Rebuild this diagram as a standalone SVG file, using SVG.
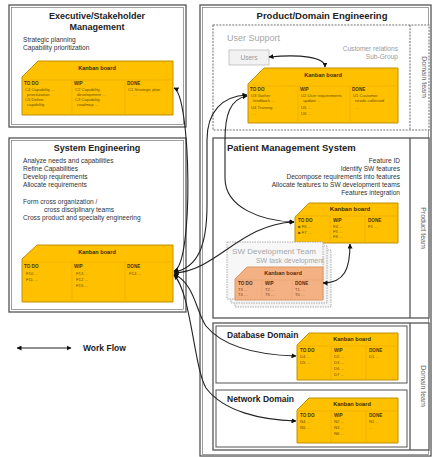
<svg xmlns="http://www.w3.org/2000/svg" width="435" height="457" viewBox="0 0 435 457">
<defs>
<style>
text{font-family:"Liberation Sans",Arial,sans-serif}
.frame{fill:#fff;stroke:#555;stroke-width:1.3}
.inner{fill:none;stroke:#777;stroke-width:0.7}
.dash{fill:#fff;stroke:#777;stroke-width:1.1;stroke-dasharray:2 1.2}
.ttl{font-size:9px;font-weight:bold;fill:#222}
.body{font-size:6.6px;fill:#333}
.gray{fill:#9a9a9a}
.kb{fill:#FFC000;stroke:#BF9000;stroke-width:1}
.kbl{stroke:#E8B000;stroke-width:0.7}
.kbt{font-size:5.6px;font-weight:bold;fill:#3a2c00;text-anchor:middle}
.kbh{font-size:4.6px;font-weight:bold;fill:#4a3800}
.kbi{font-size:4.2px;fill:#6b5200}
.sk{fill:#F4B183;stroke:#D99866;stroke-width:1}
.skl{stroke:#E9A474;stroke-width:0.7}
.ski{font-size:4.2px;fill:#843C0C}
.rot{font-size:7px;fill:#666;text-anchor:middle}
.flow{fill:none;stroke:#222;stroke-width:1.1;marker-start:url(#ah);marker-end:url(#ah)}
</style>
<marker id="ah" viewBox="0 0 10 10" refX="9" refY="5" markerWidth="5" markerHeight="5" orient="auto-start-reverse" markerUnits="userSpaceOnUse">
<path d="M0,0 L10,5 L0,10 z" fill="#111"/>
</marker>
</defs>

<!-- Executive/Stakeholder Management -->
<g id="exec">
<rect class="frame" x="9" y="5" width="177" height="122"/>
<rect class="inner" x="11.5" y="7.5" width="172" height="117"/>
<text class="ttl" x="97" y="19" text-anchor="middle">Executive/Stakeholder</text>
<text class="ttl" x="97" y="30" text-anchor="middle">Management</text>
<text class="body" x="23" y="42">Strategic planning</text>
<text class="body" x="23" y="50">Capability prioritization</text>
<g id="exec-kanban">
<polygon class="kb" points="38,61 173,61 173,115 22,115 22,77"/>
<line class="kbl" x1="22" y1="80" x2="173" y2="80"/>
<line class="kbl" x1="72" y1="80" x2="72" y2="115"/>
<line class="kbl" x1="125" y1="80" x2="125" y2="115"/>
<text class="kbt" x="97" y="70">Kanban board</text>
<text class="kbh" x="24" y="85">TO DO</text>
<text class="kbh" x="74" y="85">WIP</text>
<text class="kbh" x="127" y="85">DONE</text>
<text class="kbi" x="25" y="91">C4 Capability ...</text>
<text class="kbi" x="27" y="96">prioritization</text>
<text class="kbi" x="25" y="101">C5 Define</text>
<text class="kbi" x="27" y="106">capability</text>
<text class="kbi" x="75" y="91">C2 Capability</text>
<text class="kbi" x="77" y="96">development ...</text>
<text class="kbi" x="75" y="101">C3 Capability</text>
<text class="kbi" x="77" y="106">roadmap ...</text>
<text class="kbi" x="128" y="91">C1 Strategic plan</text>
<text class="kbi" x="134" y="96">...</text>
</g>
</g>

<!-- System Engineering -->
<g id="syseng">
<rect class="frame" x="9" y="138" width="177" height="174"/>
<rect class="inner" x="11.5" y="140.5" width="172" height="169"/>
<text class="ttl" x="97" y="151" text-anchor="middle">System Engineering</text>
<text class="body" x="23" y="163">Analyze needs and capabilities</text>
<text class="body" x="23" y="171">Refine Capabilities</text>
<text class="body" x="23" y="179">Develop requirements</text>
<text class="body" x="23" y="187">Allocate requirements</text>
<text class="body" x="23" y="204">Form cross organization /</text>
<text class="body" x="44" y="212">cross disciplinary teams</text>
<text class="body" x="23" y="220">Cross product and specialty engineering</text>
<g id="se-kanban">
<polygon class="kb" points="37,245 173,245 173,302 22,302 22,259"/>
<line class="kbl" x1="22" y1="262" x2="173" y2="262"/>
<line class="kbl" x1="72" y1="262" x2="72" y2="302"/>
<line class="kbl" x1="125" y1="262" x2="125" y2="302"/>
<text class="kbt" x="97" y="254">Kanban board</text>
<text class="kbh" x="24" y="268">TO DO</text>
<text class="kbh" x="74" y="268">WIP</text>
<text class="kbh" x="127" y="268">DONE</text>
<text class="kbi" x="26" y="275">F10 ...</text>
<text class="kbi" x="26" y="281">F11 ...</text>
<text class="kbi" x="76" y="275">F13 ...</text>
<text class="kbi" x="76" y="281">F12 ...</text>
<text class="kbi" x="76" y="287">F15 ...</text>
<text class="kbi" x="129" y="275">F14 ...</text>
</g>
</g>

<!-- Product/Domain Engineering -->
<g id="product-domain">
<rect class="frame" x="200" y="5" width="231" height="451"/>
<rect class="inner" x="202.5" y="7.5" width="226" height="447"/>
<text class="ttl" x="322" y="19" text-anchor="middle" style="font-size:9.5px">Product/Domain Engineering</text>
</g>

<!-- User Support -->
<g id="user-support">
<rect class="dash" x="213" y="25" width="216" height="105"/>
<line x1="410" y1="25" x2="410" y2="130" stroke="#777" stroke-width="1.1" stroke-dasharray="2 1.2"/>
<text class="rot" transform="translate(422,77) rotate(90)">Domain team</text>
<text x="227" y="41" style="font-size:9px;fill:#a6a6a6">User Support</text>
<text class="body gray" x="398" y="51" text-anchor="end">Customer relations</text>
<text class="body gray" x="398" y="59" text-anchor="end">Sub-Group</text>
</g>
<g id="users">
<rect x="229" y="50" width="40" height="15" fill="#f2f2f2" stroke="#bbb" stroke-width="0.8"/>
<text class="body gray" x="249" y="60" text-anchor="middle">Users</text>
</g>
<g id="us-kanban">
<polygon class="kb" points="264,68 398,68 398,123 248,123 248,84"/>
<line class="kbl" x1="248" y1="86" x2="398" y2="86"/>
<line class="kbl" x1="298" y1="86" x2="298" y2="123"/>
<line class="kbl" x1="350" y1="86" x2="350" y2="123"/>
<text class="kbt" x="323" y="77">Kanban board</text>
<text class="kbh" x="250" y="91">TO DO</text>
<text class="kbh" x="300" y="91">WIP</text>
<text class="kbh" x="352" y="91">DONE</text>
<text class="kbi" x="251" y="97">U3 Gather</text>
<text class="kbi" x="253" y="102">feedback ...</text>
<text class="kbi" x="251" y="109">U4 Training</text>
<text class="kbi" x="253" y="115">...</text>
<text class="kbi" x="301" y="97">U2 User requirements</text>
<text class="kbi" x="303" y="102">update ...</text>
<text class="kbi" x="301" y="109">U5 ...</text>
<text class="kbi" x="301" y="115">U6 ...</text>
<text class="kbi" x="353" y="97">U1 Customer</text>
<text class="kbi" x="355" y="102">needs collected</text>
<text class="kbi" x="355" y="109">...</text>
</g>

<!-- Patient Management System -->
<g id="patient-mgmt">
<rect class="frame" x="213" y="138" width="216" height="180"/>
<line x1="410" y1="138" x2="410" y2="318" stroke="#555" stroke-width="1.3"/>
<text class="rot" transform="translate(421,228) rotate(90)">Product team</text>
<text class="ttl" x="227" y="151" style="font-size:9.5px">Patient Management System</text>
<text class="body" x="400" y="163" text-anchor="end">Feature ID</text>
<text class="body" x="400" y="171" text-anchor="end">Identify SW features</text>
<text class="body" x="400" y="179" text-anchor="end">Decompose requirements into features</text>
<text class="body" x="400" y="187" text-anchor="end">Allocate features to SW development teams</text>
<text class="body" x="400" y="195" text-anchor="end">Features integration</text>
</g>
<g id="pm-kanban">
<polygon class="kb" points="309,203 398,203 398,243 295,243 295,217"/>
<line class="kbl" x1="295" y1="216" x2="398" y2="216"/>
<line class="kbl" x1="330" y1="216" x2="330" y2="243"/>
<line class="kbl" x1="365" y1="216" x2="365" y2="243"/>
<text class="kbt" x="350" y="211" style="font-size:6px">Kanban board</text>
<text class="kbh" x="298" y="222">TO DO</text>
<text class="kbh" x="333" y="222">WIP</text>
<text class="kbh" x="368" y="222">DONE</text>
<text class="kbi" x="298" y="228">■ F6 ...</text>
<text class="kbi" x="298" y="234">■ F7 ...</text>
<text class="kbi" x="333" y="228">F4 ...</text>
<text class="kbi" x="333" y="233">F5 ...</text>
<text class="kbi" x="333" y="238">F8 ...</text>
<text class="kbi" x="368" y="228">F1 ...</text>
</g>

<!-- SW Development Team -->
<g id="sw-team">
<rect x="235" y="250" width="96" height="57" fill="#f4f4f4" stroke="#999" stroke-width="0.8" stroke-dasharray="1.5 1"/>
<rect x="231" y="246" width="96" height="57" fill="#f4f4f4" stroke="#999" stroke-width="0.8" stroke-dasharray="1.5 1"/>
<rect x="227" y="242" width="96" height="57" fill="#f7f7f7" stroke="#999" stroke-width="0.8" stroke-dasharray="1.5 1"/>
<text x="274" y="254" text-anchor="middle" style="font-size:8px;fill:#a6a6a6">SW Development Team</text>
<text x="290" y="263" text-anchor="middle" style="font-size:7px;fill:#a6a6a6">SW task development</text>
</g>
<g id="sw-kanban">
<polygon class="sk" points="247,267 323,267 323,300 235,300 235,279"/>
<line class="skl" x1="235" y1="280" x2="323" y2="280"/>
<line class="skl" x1="262" y1="280" x2="262" y2="300"/>
<line class="skl" x1="292" y1="280" x2="292" y2="300"/>
<text class="kbt" x="283" y="275" style="fill:#5a2a08">Kanban board</text>
<text class="kbh" x="238" y="285" style="fill:#5a2a08">TO DO</text>
<text class="kbh" x="265" y="285" style="fill:#5a2a08">WIP</text>
<text class="kbh" x="295" y="285" style="fill:#5a2a08">DONE</text>
<text class="ski" x="238" y="291">T3 ...</text>
<text class="ski" x="238" y="296">T4 ...</text>
<text class="ski" x="265" y="291">T2 ...</text>
<text class="ski" x="265" y="296">T5 ...</text>
<text class="ski" x="295" y="291">T1 ...</text>
<text class="ski" x="295" y="296">T0 ...</text>
</g>

<!-- Domain teams -->
<g id="domain-teams">
<rect class="frame" x="213" y="323" width="216" height="127"/>
<line x1="410" y1="323" x2="410" y2="450" stroke="#555" stroke-width="1.3"/>
<text class="rot" transform="translate(421,386) rotate(90)">Domain team</text>
</g>
<g id="database">
<rect class="inner" x="216" y="326" width="191" height="57" style="stroke:#555;stroke-width:1"/>
<text class="ttl" x="227" y="338" style="font-size:8.5px">Database Domain</text>
</g>
<g id="db-kanban">
<polygon class="kb" points="309,333 398,333 398,380 297,380 297,345"/>
<line class="kbl" x1="297" y1="346" x2="398" y2="346"/>
<line class="kbl" x1="331" y1="346" x2="331" y2="380"/>
<line class="kbl" x1="366" y1="346" x2="366" y2="380"/>
<text class="kbt" x="352" y="341">Kanban board</text>
<text class="kbh" x="300" y="352">TO DO</text>
<text class="kbh" x="334" y="352">WIP</text>
<text class="kbh" x="369" y="352">DONE</text>
<text class="kbi" x="300" y="358">D4 ...</text>
<text class="kbi" x="300" y="364">D5 ...</text>
<text class="kbi" x="334" y="358">D2 ...</text>
<text class="kbi" x="334" y="364">D3 ...</text>
<text class="kbi" x="334" y="370">D6 ...</text>
<text class="kbi" x="334" y="376">D7 ...</text>
<text class="kbi" x="369" y="358">D1 ...</text>
</g>
<g id="network">
<rect class="inner" x="216" y="390" width="191" height="57" style="stroke:#555;stroke-width:1"/>
<text class="ttl" x="227" y="402" style="font-size:8.5px">Network Domain</text>
</g>
<g id="net-kanban">
<polygon class="kb" points="309,398 398,398 398,443 297,443 297,410"/>
<line class="kbl" x1="297" y1="411" x2="398" y2="411"/>
<line class="kbl" x1="331" y1="411" x2="331" y2="443"/>
<line class="kbl" x1="366" y1="411" x2="366" y2="443"/>
<text class="kbt" x="352" y="406">Kanban board</text>
<text class="kbh" x="300" y="417">TO DO</text>
<text class="kbh" x="334" y="417">WIP</text>
<text class="kbh" x="369" y="417">DONE</text>
<text class="kbi" x="300" y="423">N4 ...</text>
<text class="kbi" x="300" y="429">N5 ...</text>
<text class="kbi" x="334" y="423">N2 ...</text>
<text class="kbi" x="334" y="429">N3 ...</text>
<text class="kbi" x="334" y="435">N6 ...</text>
<text class="kbi" x="369" y="423">N1 ...</text>
<text class="kbi" x="369" y="429">...</text>
</g>

<!-- Legend -->
<g id="legend">
<line class="flow" x1="17" y1="348" x2="71" y2="348"/>
<text class="ttl" x="83" y="351" style="font-size:8.5px">Work Flow</text>
</g>

<!-- Connectors -->
<g id="connectors">
<path class="flow" d="M174,271 C194,265 191,95 174,88"/>
<path class="flow" d="M174,272 C198,268 207,245 207,205 L207,140 C207,112 222,96 247,95"/>
<path class="flow" d="M247,96 C230,99 225,115 225,140 L225,178 C225,208 262,221 294,222"/>
<path class="flow" d="M174,273 C215,272 240,224 294,222"/>
<path class="flow" d="M323,283 C345,283 350,268 350,244"/>
<path class="flow" d="M269,57 C300,54 325,57 325,67"/>
<path class="flow" d="M174,274 C195,284 196,312 206,326 C224,348 262,355 296,356"/>
<path class="flow" d="M174,275 C191,292 194,368 206,388 C224,412 262,420 296,421"/>
</g>
</svg>
